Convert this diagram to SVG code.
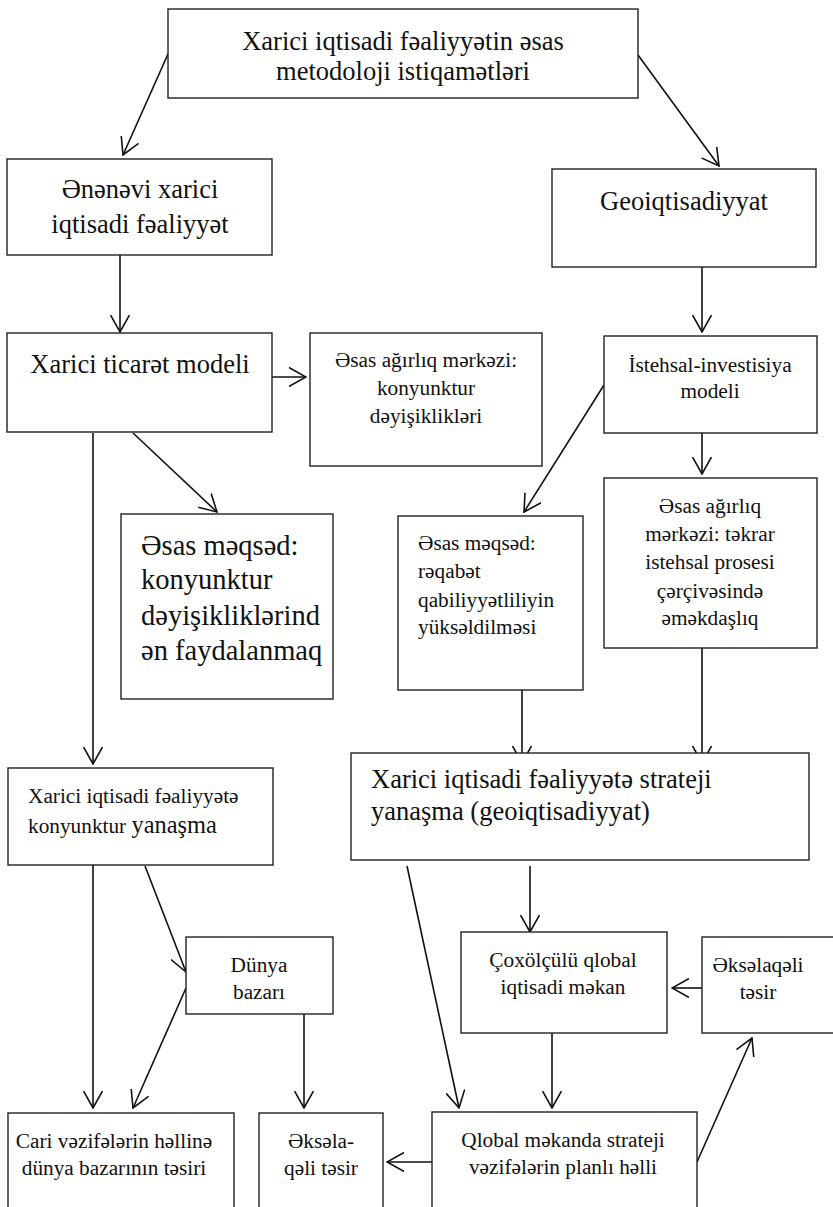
<svg xmlns="http://www.w3.org/2000/svg" width="833" height="1207" viewBox="0 0 833 1207">
<defs>
<style>
.box{fill:#fff;stroke:#222;stroke-width:1.4}
.t{font-family:"Liberation Serif","Times New Roman",serif;fill:#111}
.L{font-size:26.5px}
.M{font-size:21.3px}
.X{font-size:28.5px}
.c{text-anchor:middle}
.e{fill:none;stroke:#111;stroke-width:1.6}
</style>
<marker id="ah" viewBox="0 0 18 20" refX="17" refY="10" markerWidth="18" markerHeight="20" markerUnits="userSpaceOnUse" orient="auto">
<path d="M0,0.5 L17,10 L0,19.5" fill="none" stroke="#111" stroke-width="1.6"/>
</marker>
</defs>
<rect width="833" height="1207" fill="#fff"/>

<g id="connectors">
<line class="e" x1="168" y1="54" x2="123" y2="155" marker-end="url(#ah)"/>
<line class="e" x1="638" y1="55" x2="719" y2="166" marker-end="url(#ah)"/>
<line class="e" x1="120" y1="255" x2="120" y2="332" marker-end="url(#ah)"/>
<line class="e" x1="702" y1="267" x2="702" y2="332" marker-end="url(#ah)"/>
<line class="e" x1="272" y1="377" x2="306" y2="377" marker-end="url(#ah)"/>
<line class="e" x1="133" y1="433" x2="217" y2="512" marker-end="url(#ah)"/>
<line class="e" x1="604" y1="385" x2="524" y2="512" marker-end="url(#ah)"/>
<line class="e" x1="702" y1="433" x2="702" y2="474" marker-end="url(#ah)"/>
<line class="e" x1="93" y1="433" x2="93" y2="764" marker-end="url(#ah)"/>
<line class="e" x1="522" y1="690" x2="522" y2="763" marker-end="url(#ah)"/>
<line class="e" x1="702" y1="648" x2="702" y2="763" marker-end="url(#ah)"/>
<line class="e" x1="93" y1="865" x2="93" y2="1108" marker-end="url(#ah)"/>
<line class="e" x1="145" y1="866" x2="186" y2="972" marker-end="url(#ah)"/>
<line class="e" x1="186" y1="988" x2="133" y2="1108" marker-end="url(#ah)"/>
<line class="e" x1="304" y1="1014" x2="304" y2="1108" marker-end="url(#ah)"/>
<line class="e" x1="530" y1="866" x2="530" y2="932" marker-end="url(#ah)"/>
<line class="e" x1="407" y1="866" x2="459" y2="1108" marker-end="url(#ah)"/>
<line class="e" x1="552" y1="1033" x2="552" y2="1108" marker-end="url(#ah)"/>
<line class="e" x1="702" y1="988" x2="672" y2="988" marker-end="url(#ah)"/>
<line class="e" x1="697" y1="1162" x2="752" y2="1038" marker-end="url(#ah)"/>
<line class="e" x1="432" y1="1162" x2="387" y2="1162" marker-end="url(#ah)"/>
</g>

<g id="n-top">
<rect class="box" x="168" y="9" width="470" height="89"/>
<text class="t L c" x="403" y="50">Xarici iqtisadi fəaliyyətin əsas</text>
<text class="t L c" x="403" y="80">metodoloji istiqamətləri</text>
</g>

<g id="n-enenevi">
<rect class="box" x="7" y="159" width="265" height="96"/>
<text class="t L c" x="140" y="198">Ənənəvi xarici</text>
<text class="t L c" x="140" y="233">iqtisadi fəaliyyət</text>
</g>

<g id="n-geo">
<rect class="box" x="552" y="169" width="264" height="98"/>
<text class="t L c" x="684" y="210">Geoiqtisadiyyat</text>
</g>

<g id="n-ticaret">
<rect class="box" x="7" y="333" width="265" height="99"/>
<text class="t L c" x="140" y="373">Xarici ticarət modeli</text>
</g>

<g id="n-agirliq1">
<rect class="box" x="310" y="333" width="232" height="133"/>
<text class="t M c" x="426" y="367">Əsas ağırlıq mərkəzi:</text>
<text class="t M c" x="426" y="395">konyunktur</text>
<text class="t M c" x="426" y="423">dəyişiklikləri</text>
</g>

<g id="n-istehsal">
<rect class="box" x="604" y="336" width="213" height="97"/>
<text class="t M c" x="710" y="372">İstehsal-investisiya</text>
<text class="t M c" x="710" y="398">modeli</text>
</g>

<g id="n-meqsed1">
<rect class="box" x="121" y="514" width="212" height="185"/>
<text class="t X" x="141" y="555">Əsas məqsəd:</text>
<text class="t X" x="141" y="589">konyunktur</text>
<text class="t X" x="141" y="625">dəyişikliklərind</text>
<text class="t X" x="141" y="660">ən faydalanmaq</text>
</g>

<g id="n-meqsed2">
<rect class="box" x="398" y="516" width="185" height="174"/>
<text class="t M" x="418" y="550">Əsas məqsəd:</text>
<text class="t M" x="418" y="578">rəqabət</text>
<text class="t M" x="418" y="607">qabiliyyətliliyin</text>
<text class="t M" x="418" y="634">yüksəldilməsi</text>
</g>

<g id="n-agirliq2">
<rect class="box" x="604" y="478" width="213" height="170"/>
<text class="t M c" x="710" y="513">Əsas ağırlıq</text>
<text class="t M c" x="710" y="541">mərkəzi: təkrar</text>
<text class="t M c" x="710" y="569">istehsal prosesi</text>
<text class="t M c" x="710" y="598">çərçivəsində</text>
<text class="t M c" x="710" y="625">əməkdaşlıq</text>
</g>

<g id="n-konyunktur-yanasma">
<rect class="box" x="8" y="768" width="265" height="97"/>
<text class="t M" x="28" y="803">Xarici iqtisadi fəaliyyətə</text>
<text class="t M" x="28" y="833">konyunktur <tspan font-size="24.4px">yanaşma</tspan></text>
</g>

<g id="n-strateji-yanasma">
<rect class="box" x="351" y="753" width="458" height="107"/>
<text class="t L" x="371" y="788">Xarici iqtisadi fəaliyyətə strateji</text>
<text class="t L" x="371" y="820">yanaşma (geoiqtisadiyyat)</text>
</g>

<g id="n-dunya">
<rect class="box" x="186" y="937" width="147" height="77"/>
<text class="t M c" x="259" y="972">Dünya</text>
<text class="t M c" x="259" y="999">bazarı</text>
</g>

<g id="n-coxolculu">
<rect class="box" x="461" y="932" width="206" height="101"/>
<text class="t M c" x="563" y="967">Çoxölçülü qlobal</text>
<text class="t M c" x="563" y="994">iqtisadi məkan</text>
</g>

<g id="n-akselaqeli1">
<rect class="box" x="702" y="937" width="135" height="96"/>
<text class="t M c" x="758" y="972">Əksəlaqəli</text>
<text class="t M c" x="758" y="999">təsir</text>
</g>

<g id="n-cari">
<rect class="box" x="8" y="1113" width="226" height="100"/>
<text class="t M c" x="114" y="1148">Cari vəzifələrin həllinə</text>
<text class="t M c" x="114" y="1175">dünya bazarının təsiri</text>
</g>

<g id="n-akselaqeli2">
<rect class="box" x="259" y="1113" width="124" height="100"/>
<text class="t M c" x="321" y="1148">Əksəla-</text>
<text class="t M c" x="321" y="1175">qəli təsir</text>
</g>

<g id="n-qlobal">
<rect class="box" x="432" y="1112" width="265" height="100"/>
<text class="t M c" x="563" y="1147">Qlobal məkanda strateji</text>
<text class="t M c" x="563" y="1174">vəzifələrin planlı həlli</text>
</g>
</svg>
